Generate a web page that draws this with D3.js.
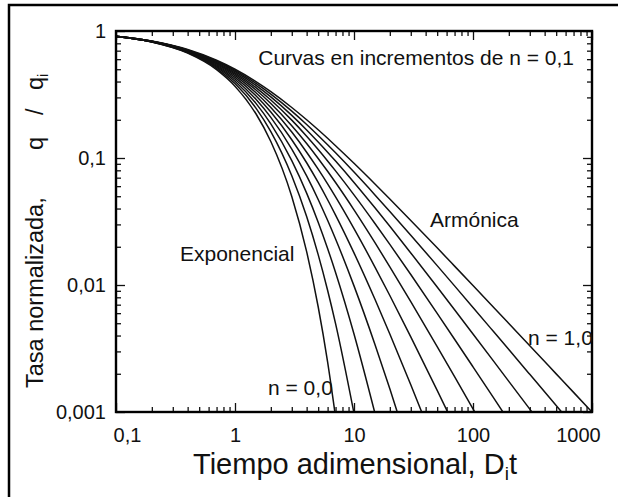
<!DOCTYPE html>
<html>
<head>
<meta charset="utf-8">
<script src="https://cdn.jsdelivr.net/npm/d3@7"></script>
<style>
  html, body { margin: 0; padding: 0; background: #fff; }
  svg { display: block; }
  text { font-family: "Liberation Sans", Arial, Helvetica, sans-serif; fill: #111; }
</style>
</head>
<body>
<svg id="chart" width="618" height="497"></svg>
<script>
// Dimensionless time D_i·t at which every curve is sampled
const dimensionlessTime = [0.1, 0.2, 0.4, 0.7, 1, 1.5, 2, 3, 4, 5, 6, 7, 10, 15, 20, 30, 50, 70, 100, 150, 200, 300, 500, 700, 1000];

// Normalised rate q/qi for each decline exponent n (each list stops once the curve leaves the plot)
const rateN00 = [0.905, 0.819, 0.670, 0.497, 0.368, 0.223, 0.135, 0.0498, 0.0183, 0.00674, 0.00248, 0.000912];
const rateN01 = [0.9053, 0.8204, 0.6756, 0.5083, 0.3855, 0.2472, 0.1615, 0.07254, 0.03457, 0.01734, 0.009095, 0.00496, 0.000977];
const rateN02 = [0.9057, 0.8219, 0.6806, 0.5194, 0.4019, 0.2693, 0.1859, 0.09537, 0.05292, 0.03125, 0.0194, 0.01256, 0.004115, 0.000977];
const rateN03 = [0.9062, 0.8235, 0.6854, 0.5297, 0.4171, 0.2899, 0.2088, 0.1177, 0.07222, 0.04716, 0.03232, 0.02302, 0.009843, 0.003405, 0.001524, 0.000464];
const rateN04 = [0.9067, 0.8249, 0.69, 0.5395, 0.4312, 0.3089, 0.23, 0.1393, 0.09175, 0.06415, 0.0469, 0.03553, 0.01789, 0.007715, 0.004115, 0.001641, 0.000495];
const rateN05 = [0.907, 0.8264, 0.6944, 0.5487, 0.4444, 0.3265, 0.25, 0.16, 0.1111, 0.08163, 0.0625, 0.04938, 0.02778, 0.01384, 0.008264, 0.003906, 0.001479, 0.000772];
const rateN06 = [0.9075, 0.8278, 0.6987, 0.5574, 0.4569, 0.343, 0.2688, 0.1798, 0.1301, 0.09921, 0.07857, 0.06407, 0.03904, 0.02154, 0.01391, 0.007391, 0.003268, 0.001895, 0.001058, 0.000543];
const rateN07 = [0.9079, 0.8292, 0.7028, 0.5656, 0.4685, 0.3586, 0.2862, 0.1987, 0.1485, 0.1166, 0.09487, 0.07918, 0.05127, 0.03052, 0.02089, 0.01209, 0.005979, 0.00374, 0.002266, 0.001279, 0.000851];
const rateN08 = [0.9084, 0.8306, 0.7068, 0.5735, 0.4797, 0.3732, 0.3029, 0.2166, 0.1663, 0.1337, 0.1111, 0.09451, 0.06415, 0.04051, 0.02897, 0.01789, 0.009639, 0.006385, 0.004115, 0.002491, 0.001743, 0.001053, 0.000557];
const rateN09 = [0.9087, 0.832, 0.7106, 0.581, 0.49, 0.387, 0.3185, 0.2337, 0.1835, 0.1505, 0.1271, 0.1098, 0.07743, 0.05124, 0.03795, 0.02466, 0.01421, 0.009843, 0.006657, 0.004259, 0.003101, 0.00198, 0.001124, 0.000774];
const rateN10 = [0.9091, 0.8333, 0.7143, 0.5882, 0.5, 0.4, 0.3333, 0.25, 0.2, 0.1667, 0.1429, 0.125, 0.09091, 0.0625, 0.04762, 0.03226, 0.01961, 0.01408, 0.009901, 0.006623, 0.004975, 0.003322, 0.001996, 0.001427, 0.000999];

const exponentN = [0, 0.1, 0.2, 0.3, 0.4, 0.5, 0.6, 0.7, 0.8, 0.9, 1.0];
const rateCurves = [rateN00, rateN01, rateN02, rateN03, rateN04, rateN05, rateN06, rateN07, rateN08, rateN09, rateN10];

// Axis ticks and their labels
const xTickValues = [0.1, 1, 10, 100, 1000];
const xTickLabels = ["0,1", "1", "10", "100", "1000"];
const yTickValues = [0.001, 0.01, 0.1, 1];
const yTickLabels = ["0,001", "0,01", "0,1", "1"];

const plot = { left: 116, right: 592, top: 31, bottom: 412 };

const svg = d3.select("#chart");

const x = d3.scaleLog().domain([0.1, 1000]).range([plot.left, plot.right]);
const y = d3.scaleLog().domain([0.001, 1]).range([plot.bottom, plot.top]);

// Figure border (top and left edges)
svg.append("path")
  .attr("d", "M9,497 L9,5 L618,5")
  .attr("fill", "none").attr("stroke", "#000").attr("stroke-width", 2.5);

svg.append("defs").append("clipPath").attr("id", "plot-clip")
  .append("rect")
  .attr("x", plot.left).attr("y", plot.top)
  .attr("width", plot.right - plot.left).attr("height", plot.bottom - plot.top);

// Decline curves
const line = d3.line()
  .x(d => x(d[0]))
  .y(d => y(d[1]))
  .curve(d3.curveMonotoneX);

svg.append("g").attr("clip-path", "url(#plot-clip)")
  .selectAll("path")
  .data(rateCurves.map(rates => rates.map((q, i) => [dimensionlessTime[i], q])))
  .join("path")
  .attr("d", line)
  .attr("fill", "none")
  .attr("stroke", "#111")
  .attr("stroke-width", 1.5);

// Minor tick positions: every unlabelled log step
const xMinor = x.ticks().filter(v => !xTickValues.some(m => Math.abs(m - v) < 1e-9));
const yMinor = y.ticks().filter(v => !yTickValues.some(m => Math.abs(m - v) < 1e-9));

function styleAxis(g) {
  g.select(".domain").remove();
  g.selectAll(".tick line").attr("stroke", "#111").attr("stroke-width", 1.3);
  g.selectAll("text").attr("font-size", 20).attr("fill", "#111");
}

// Bottom axis with labels
const xAxisG = svg.append("g")
  .attr("transform", `translate(0,${plot.bottom})`)
  .call(d3.axisBottom(x).tickValues(xTickValues).tickSizeInner(-9).tickSizeOuter(0)
    .tickPadding(16).tickFormat((d, i) => xTickLabels[i]))
  .call(styleAxis);
xAxisG.selectAll(".tick text")
  .attr("dx", (d, i) => i === 0 ? 11 : (i === xTickValues.length - 1 ? -14 : 0));
svg.append("g")
  .attr("transform", `translate(0,${plot.bottom})`)
  .call(d3.axisBottom(x).tickValues(xMinor).tickSizeInner(-5).tickSizeOuter(0).tickFormat(""))
  .call(styleAxis);

// Top axis ticks
svg.append("g")
  .attr("transform", `translate(0,${plot.top})`)
  .call(d3.axisTop(x).tickValues(xTickValues).tickSizeInner(-9).tickSizeOuter(0).tickFormat(""))
  .call(styleAxis);
svg.append("g")
  .attr("transform", `translate(0,${plot.top})`)
  .call(d3.axisTop(x).tickValues(xMinor).tickSizeInner(-5).tickSizeOuter(0).tickFormat(""))
  .call(styleAxis);

// Left axis with labels
svg.append("g")
  .attr("transform", `translate(${plot.left},0)`)
  .call(d3.axisLeft(y).tickValues(yTickValues).tickSizeInner(-9).tickSizeOuter(0)
    .tickPadding(10).tickFormat((d, i) => yTickLabels[i]))
  .call(styleAxis);
svg.append("g")
  .attr("transform", `translate(${plot.left},0)`)
  .call(d3.axisLeft(y).tickValues(yMinor).tickSizeInner(-5).tickSizeOuter(0).tickFormat(""))
  .call(styleAxis);

// Right axis ticks
svg.append("g")
  .attr("transform", `translate(${plot.right},0)`)
  .call(d3.axisRight(y).tickValues(yTickValues).tickSizeInner(-9).tickSizeOuter(0).tickFormat(""))
  .call(styleAxis);
svg.append("g")
  .attr("transform", `translate(${plot.right},0)`)
  .call(d3.axisRight(y).tickValues(yMinor).tickSizeInner(-5).tickSizeOuter(0).tickFormat(""))
  .call(styleAxis);

// Plot frame
svg.append("rect")
  .attr("x", plot.left).attr("y", plot.top)
  .attr("width", plot.right - plot.left).attr("height", plot.bottom - plot.top)
  .attr("fill", "none").attr("stroke", "#000").attr("stroke-width", 2.4);

// In-plot annotations
const notes = [
  { text: "Curvas en incrementos de n = 0,1", x: 574, y: 65, anchor: "end" },
  { text: "Armónica", x: 430, y: 227, anchor: "start" },
  { text: "Exponencial", x: 180, y: 261, anchor: "start" },
  { text: "n = 0,0", x: 268, y: 395, anchor: "start" },
  { text: "n = 1,0", x: 528, y: 345, anchor: "start" }
];
svg.append("g").selectAll("text")
  .data(notes)
  .join("text")
  .attr("x", d => d.x).attr("y", d => d.y)
  .attr("text-anchor", d => d.anchor)
  .attr("font-size", 21)
  .text(d => d.text);

// X axis title
const xTitle = svg.append("text")
  .attr("x", 355).attr("y", 474)
  .attr("text-anchor", "middle")
  .attr("font-size", 29);
xTitle.append("tspan").text("Tiempo adimensional, D");
xTitle.append("tspan").attr("font-size", 19).attr("dy", 6).text("i");
xTitle.append("tspan").attr("dy", -6).text("t");

// Y axis title, rotated to read upward
const yTitle = svg.append("g").attr("transform", "translate(43,0) rotate(-90)");
yTitle.append("text").attr("x", -388).attr("y", 0).attr("font-size", 23.5).text("Tasa normalizada,");
yTitle.append("text").attr("x", -150).attr("y", 0).attr("font-size", 23.5).text("q");
yTitle.append("text").attr("x", -115).attr("y", 0).attr("font-size", 23.5).text("/");
yTitle.append("text").attr("x", -90).attr("y", 0).attr("font-size", 23.5).text("q");
yTitle.append("text").attr("x", -77).attr("y", 5).attr("font-size", 15).text("i");
</script>
</body>
</html>
